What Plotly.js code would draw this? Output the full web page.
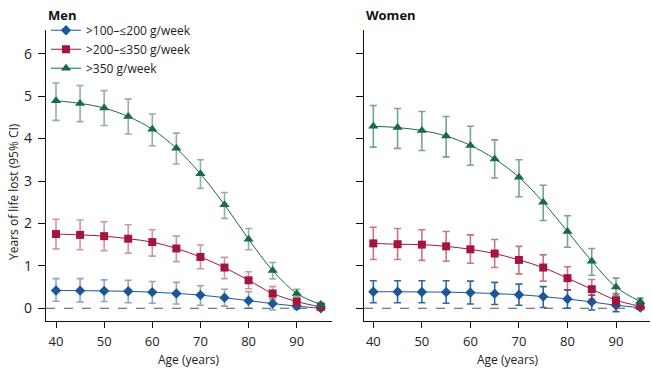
<!DOCTYPE html>
<html>
<head>
<meta charset="utf-8">
<script src="https://cdn.plot.ly/plotly-3.0.1.min.js"></script>
<style>html,body{margin:0;padding:0;background:#fff;}#chart{width:652px;height:371px;}</style>
</head>
<body>
<div id="chart"></div>
<script>
const ages = [40, 45, 50, 55, 60, 65, 70, 75, 80, 85, 90, 95];
const seriesNames = [">100–≤200 g/week", ">200–≤350 g/week", ">350 g/week"];
const panelTitles = ["Men", "Women"];
const yTitle = "Years of life lost (95% CI)";
const xTitle = "Age (years)";
const yTicks = [0, 1, 2, 3, 4, 5, 6];
const xTicks = [40, 50, 60, 70, 80, 90];

// Men
const menLowVal   = [0.42, 0.415, 0.41, 0.40, 0.38, 0.35, 0.31, 0.25, 0.18, 0.11, 0.05, 0.00];
const menLowHi    = [0.70, 0.70, 0.67, 0.66, 0.63, 0.61, 0.53, 0.45, 0.39, 0.24, 0.15, 0.03];
const menLowLo    = [0.165, 0.15, 0.16, 0.13, 0.12, 0.10, 0.07, 0.05, 0.00, -0.04, -0.02, -0.03];
const menMidVal   = [1.75, 1.73, 1.70, 1.64, 1.56, 1.41, 1.21, 0.96, 0.66, 0.35, 0.16, 0.03];
const menMidHi    = [2.10, 2.08, 2.04, 1.97, 1.85, 1.70, 1.49, 1.20, 0.86, 0.51, 0.23, 0.07];
const menMidLo    = [1.40, 1.38, 1.36, 1.30, 1.23, 1.10, 0.93, 0.70, 0.46, 0.20, 0.06, -0.01];
const menHighVal  = [4.89, 4.83, 4.72, 4.52, 4.22, 3.77, 3.17, 2.44, 1.63, 0.89, 0.35, 0.09];
const menHighHi   = [5.31, 5.25, 5.13, 4.93, 4.58, 4.13, 3.50, 2.73, 1.88, 1.08, 0.45, 0.14];
const menHighLo   = [4.43, 4.40, 4.31, 4.11, 3.83, 3.40, 2.83, 2.12, 1.38, 0.69, 0.27, 0.01];

// Women
const womLowVal   = [0.39, 0.39, 0.385, 0.38, 0.37, 0.345, 0.32, 0.275, 0.22, 0.15, 0.07, 0.02];
const womLowHi    = [0.65, 0.65, 0.65, 0.65, 0.64, 0.61, 0.57, 0.51, 0.43, 0.31, 0.20, 0.06];
const womLowLo    = [0.13, 0.13, 0.13, 0.12, 0.10, 0.09, 0.07, 0.02, 0.00, -0.04, -0.08, -0.02];
const womMidVal   = [1.53, 1.51, 1.50, 1.46, 1.39, 1.29, 1.14, 0.96, 0.71, 0.45, 0.19, 0.05];
const womMidHi    = [1.91, 1.88, 1.85, 1.81, 1.73, 1.62, 1.46, 1.26, 0.98, 0.68, 0.35, 0.10];
const womMidLo    = [1.15, 1.15, 1.13, 1.11, 1.06, 0.96, 0.81, 0.64, 0.43, 0.21, 0.04, 0.00];
const womHighVal  = [4.29, 4.26, 4.19, 4.06, 3.84, 3.52, 3.09, 2.50, 1.81, 1.11, 0.50, 0.16];
const womHighHi   = [4.78, 4.71, 4.64, 4.52, 4.29, 3.97, 3.50, 2.90, 2.18, 1.41, 0.71, 0.24];
const womHighLo   = [3.80, 3.77, 3.72, 3.57, 3.37, 3.07, 2.63, 2.07, 1.44, 0.78, 0.31, 0.07];

const colors = ["#1b5797", "#a3143f", "#196b45"];
const errLeft = ["rgba(60,90,140,0.55)", "rgba(170,40,80,0.5)", "rgba(40,100,70,0.5)"];
const errRight = ["rgba(27,87,151,0.9)", "rgba(163,20,63,0.6)", "rgba(25,107,69,0.6)"];
const symbols = ["diamond", "square", "triangle-up"];
const sizes = [8, 8, 9];

const font = "Open Sans, Noto Sans, sans-serif";

const panels = [
  {vals: [menLowVal, menMidVal, menHighVal], hi: [menLowHi, menMidHi, menHighHi], lo: [menLowLo, menMidLo, menHighLo], xa: "x", ya: "y", err: errLeft, legend: true},
  {vals: [womLowVal, womMidVal, womHighVal], hi: [womLowHi, womMidHi, womHighHi], lo: [womLowLo, womMidLo, womHighLo], xa: "x2", ya: "y2", err: errRight, legend: false}
];

const traces = [];
panels.forEach(p => {
  for (let i = 0; i < 3; i++) {
    const v = p.vals[i];
    traces.push({
      x: ages, y: v, type: "scatter", mode: "lines+markers",
      name: seriesNames[i], xaxis: p.xa, yaxis: p.ya, showlegend: p.legend,
      line: {color: colors[i], width: 1, shape: "spline"},
      marker: {symbol: symbols[i], size: sizes[i], color: colors[i]},
      error_y: {type: "data", symmetric: false,
        array: p.hi[i].map((h, k) => h - v[k]),
        arrayminus: p.lo[i].map((l, k) => v[k] - l),
        color: p.err[i], thickness: 1.6, width: 3.5}
    });
  }
});

const axisCommon = {showline: true, linecolor: "#111", linewidth: 1.2, ticks: "outside", tickcolor: "#111",
  showgrid: false, zeroline: false, tickfont: {family: font, size: 13, color: "#222"}};

const layout = {
  width: 652, height: 371,
  margin: {l: 46, r: 2, t: 30, b: 50},
  paper_bgcolor: "#fff", plot_bgcolor: "#fff",
  showlegend: true,
  legend: {x: 0.0, y: 1.049, xanchor: "left", yanchor: "top", bgcolor: "rgba(0,0,0,0)",
    font: {family: font, size: 12, color: "#222"}, tracegroupgap: 0},
  xaxis: Object.assign({}, axisCommon, {domain: [0, 0.4735], range: [37.92, 97.33], tickvals: xTicks, ticklen: 6, ticklabelstandoff: 2}),
  xaxis2: Object.assign({}, axisCommon, {domain: [0.5265, 1], range: [38.08, 97.0], tickvals: xTicks, ticklen: 6, ticklabelstandoff: 2, anchor: "y2"}),
  yaxis: Object.assign({}, axisCommon, {range: [-0.3, 6.56], tickvals: yTicks, ticklen: 7, ticklabelstandoff: 3, tickfont: {family: font, size: 14, color: "#222"}}),
  yaxis2: Object.assign({}, axisCommon, {range: [-0.3, 6.56], tickvals: yTicks, ticklen: 7, showticklabels: false, anchor: "x2"}),
  shapes: [
    {type: "line", xref: "x domain", yref: "y", x0: 0, x1: 1, y0: 0, y1: 0, line: {color: "#555", width: 1, dash: "dash"}, layer: "below"},
    {type: "line", xref: "x2 domain", yref: "y2", x0: 0, x1: 1, y0: 0, y1: 0, line: {color: "#555", width: 1, dash: "dash"}, layer: "below"}
  ],
  annotations: [
    {text: "<b>" + panelTitles[0] + "</b>", xref: "paper", yref: "paper", x: 0, y: 1.0515, xanchor: "left", yanchor: "middle", showarrow: false, font: {family: font, size: 13, color: "#111"}},
    {text: "<b>" + panelTitles[1] + "</b>", xref: "paper", yref: "paper", x: 0.5265, y: 1.0515, xanchor: "left", yanchor: "middle", showarrow: false, font: {family: font, size: 13, color: "#111"}},
    {text: yTitle, xref: "paper", yref: "paper", x: -0.053, y: 0.447, textangle: -90, xanchor: "center", yanchor: "middle", showarrow: false, font: {family: font, size: 12, color: "#222"}},
    {text: xTitle, xref: "paper", yref: "paper", x: 0.2368, y: -0.1306, xanchor: "center", yanchor: "middle", showarrow: false, font: {family: font, size: 12, color: "#222"}},
    {text: xTitle, xref: "paper", yref: "paper", x: 0.7645, y: -0.1306, xanchor: "center", yanchor: "middle", showarrow: false, font: {family: font, size: 12, color: "#222"}}
  ]
};

Plotly.newPlot("chart", traces, layout, {displayModeBar: false, staticPlot: true});
</script>
</body>
</html>
